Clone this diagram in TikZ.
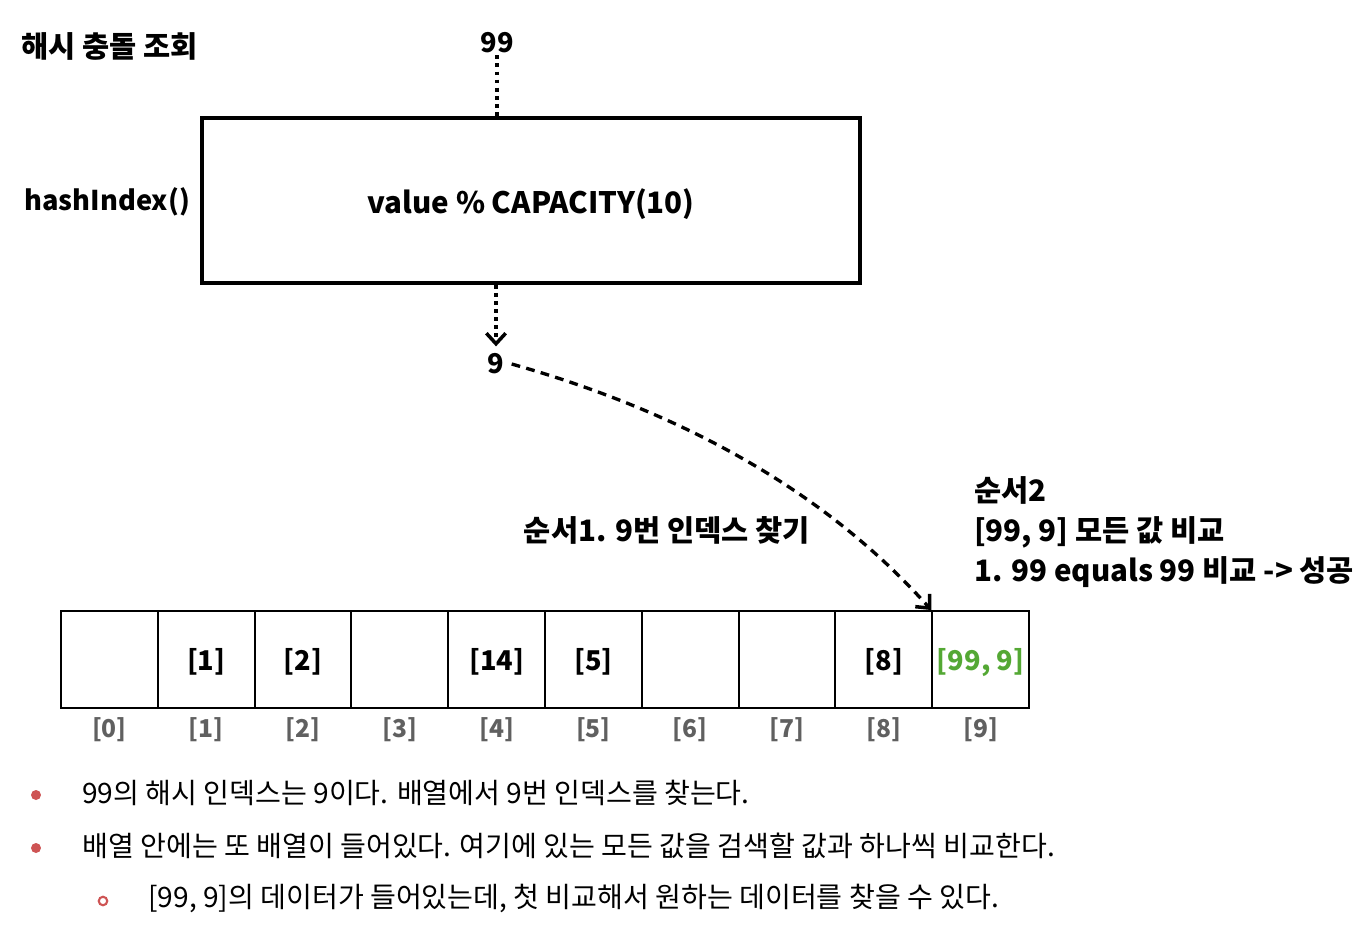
\documentclass[tikz,border=0pt]{standalone}
\usepackage{fontspec}
\setmainfont{Noto Sans CJK KR}
\usetikzlibrary{arrows.meta, positioning}
\definecolor{hitgreen}{RGB}{84,168,52}
\definecolor{dotred}{RGB}{206,84,84}
\definecolor{idxgray}{RGB}{96,96,96}

\begin{document}
\begin{tikzpicture}[
		x=0.02cm, y=-0.02cm,
		% px-Raster wie im Bild
		label/.style={font=\bfseries\fontsize{16.8}{20}\selectfont, inner sep=1pt},
		small/.style={font=\bfseries\fontsize{15.5}{19}\selectfont, inner sep=1pt},
		note/.style={font=\fontsize{16}{19}\selectfont, anchor=west, inner sep=0pt},
		hashbox/.style={rectangle, draw, line width=2pt, minimum width=13.16cm, minimum height=3.3cm, font=\bfseries\fontsize{16.8}{20}\selectfont},
		cell/.style={rectangle, draw, line width=1.1pt, minimum width=1.936cm, minimum height=1.94cm, inner sep=0pt, font=\bfseries\fontsize{15.5}{19}\selectfont},
		idx/.style={font=\bfseries\fontsize{14}{17}\selectfont, text=idxgray},
		dotline/.style={line width=2.1pt, dash pattern=on 2.2pt off 2.4pt},
		myarrow/.style={-{Straight Barb[length=6pt, width=11pt, line width=2pt]}},
		curvearrow/.style={line width=1.9pt, dash pattern=on 5pt off 3.6pt, -{Straight Barb[length=6pt, width=11pt, line width=2pt]}},
		bulletdot/.style={circle, fill=dotred, minimum size=0.2cm, inner sep=0pt},
		bulletring/.style={circle, draw=dotred, line width=1.2pt, minimum size=0.17cm, inner sep=0pt}
		]
		
		\useasboundingbox (0,0) rectangle (1362,926);
		
		\node[label, anchor=west] (title) at (19,46) {해시 충돌 조회};
		\node[small] (input) at (497,43) {99};
		\node[hashbox] (hash) at (531,200.5) {\raisebox{-2.2pt}[\height][\depth]{value \% CAPACITY(10)}};
		\node[small, anchor=east] (hashname) at (192,202) {hashIndex()};
		\node[small, inner sep=4pt] (out) at (496,364) {9};
		
		% Eingang und Ausgang der Hashfunktion
		\draw[dotline] (input.south) -- (input.south |- hash.north);
		\draw[dotline, myarrow] (out.north |- hash.south) -- (out.north);
		
		% Array mit 10 Feldern
		\foreach \i/\val in {0/{}, 1/{[1]}, 2/{[2]}, 3/{}, 4/{[14]}, 5/{[5]}, 6/{}, 7/{}, 8/{[8]}}{
			\node[cell] (c\i) at (109.4+96.8*\i,659.5) {\raisebox{-1.6pt}[\height][\depth]{\val}};
			\node[idx] (i\i) at (109.4+96.8*\i,730) {[\i]};
		}
		\node[cell, text=hitgreen] (c9) at (980.6,659.5) {\raisebox{-1.6pt}[\height][\depth]{[99, 9]}};
		\node[idx] (i9) at (980.6,730) {[9]};
		
		\coordinate (bendA) at (685,413);
		\coordinate (bendB) at (827,493);
		\draw[curvearrow] (out.east) .. controls (bendA) and (bendB) .. (c9.north west);
		
		\node[label] (step1) at (667,530) {순서1. 9번 인덱스 찾기};
		\node[label, anchor=north west, align=left, font=\bfseries\fontsize{16.8}{23}\selectfont] (step2) at (972,474) {순서2\\{}[99, 9] 모든 값 비교\\1. 99 equals 99 비교 -> 성공};
		
		% Erklaerung
		\node[bulletdot] (b1) at (36,795) {};
		\node[note] (t1) at (82,793) {99의 해시 인덱스는 9이다. 배열에서 9번 인덱스를 찾는다.};
		\node[bulletdot] (b2) at (36,848) {};
		\node[note] (t2) at (82,846) {배열 안에는 또 배열이 들어있다. 여기에 있는 모든 값을 검색할 값과 하나씩 비교한다.};
		\node[bulletring] (b3) at (103,901) {};
		\node[note] (t3) at (148,898) {[99, 9]의 데이터가 들어있는데, 첫 비교해서 원하는 데이터를 찾을 수 있다.};
		
	\end{tikzpicture}
\end{document}
